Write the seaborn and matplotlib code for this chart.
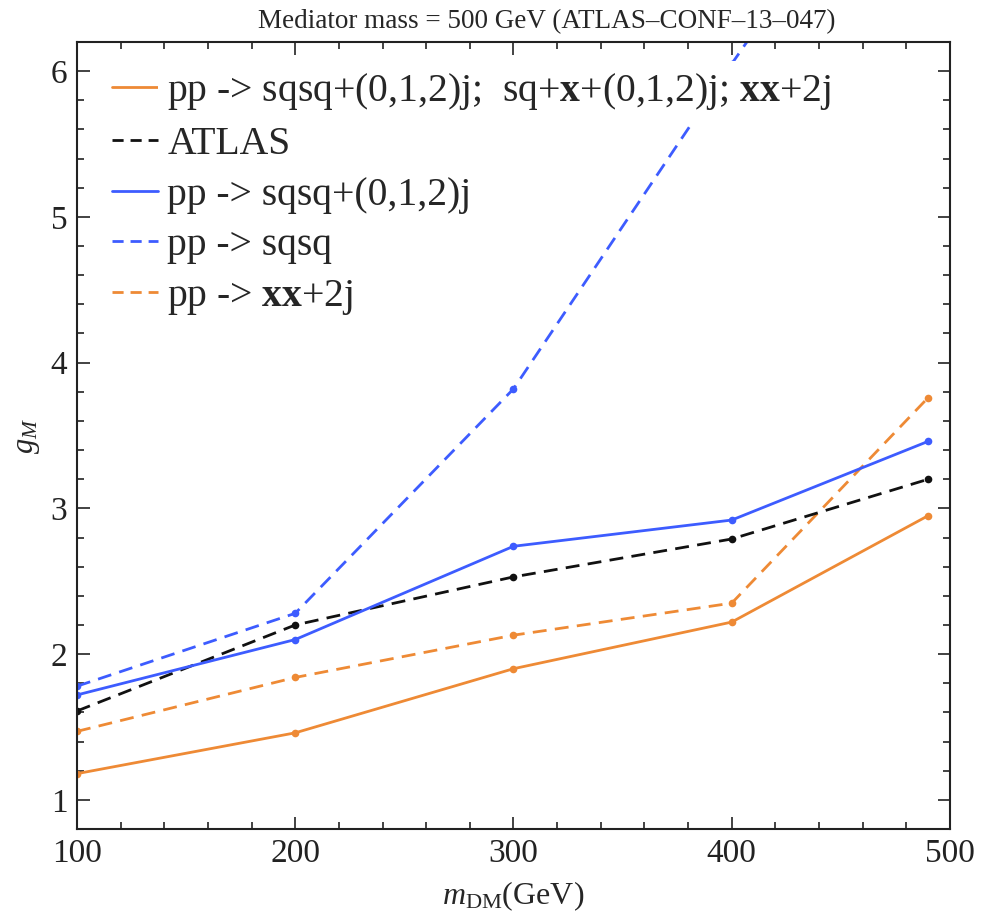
import numpy as np
import pandas as pd
import matplotlib
matplotlib.use("Agg")
import matplotlib.pyplot as plt
from matplotlib.lines import Line2D
from matplotlib.ticker import MultipleLocator
import seaborn as sns

# ---- data ----
m_dm = [100, 200, 300, 400, 490]
full_combined = [1.18, 1.46, 1.90, 2.22, 2.95]      # orange solid
atlas = [1.61, 2.20, 2.53, 2.79, 3.20]               # black dashed
sqsq_jets = [1.72, 2.10, 2.74, 2.92, 3.46]           # blue solid
sqsq_only = [1.78, 2.28, 3.82, 6.05, 8.0]            # blue dashed
xx_2j = [1.47, 1.84, 2.13, 2.35, 3.76]               # orange dashed

labels = [
    r"pp -> sqsq+(0,1,2)j;  sq+$\mathbf{x}$+(0,1,2)j; $\mathbf{xx}$+2j",
    "ATLAS",
    "pp -> sqsq+(0,1,2)j",
    "pp -> sqsq",
    r"pp -> $\mathbf{xx}$+2j",
]
title = "Mediator mass = 500 GeV (ATLAS\u2013CONF\u201313\u2013047)"
xlabel = r"$m_{\rm DM}$(GeV)"
ylabel = r"$g_M$"
xticks = [100, 200, 300, 400, 500]
yticks = [1, 2, 3, 4, 5, 6]

ORANGE = "#ee8a35"
BLUE = "#3d5cff"
BLACK = "#111111"

sns.set_style("ticks")
plt.rcParams["font.family"] = ["Liberation Serif", "DejaVu Serif"]
plt.rcParams["mathtext.fontset"] = "custom"
plt.rcParams["mathtext.rm"] = "Liberation Serif"
plt.rcParams["mathtext.it"] = "Liberation Serif:italic"
plt.rcParams["mathtext.bf"] = "Liberation Serif:bold"

fig = plt.figure(figsize=(9.82, 9.19), dpi=100)
ax = fig.add_axes([0.0784, 0.0979, 0.8890, 0.8564])

series = [
    (full_combined, ORANGE, "-"),
    (atlas, BLACK, "--"),
    (sqsq_jets, BLUE, "-"),
    (sqsq_only, BLUE, "--"),
    (xx_2j, ORANGE, "--"),
]
draw_order = [0, 4, 1, 3, 2]
for i in draw_order:
    vals, col, ls = series[i]
    df = pd.DataFrame({"m": m_dm, "g": vals})
    line_kw = dict(linewidth=2.0, marker="o", markersize=5.5, markeredgewidth=0)
    if ls == "--":
        line_kw["dashes"] = (5, 3)
    sns.lineplot(data=df, x="m", y="g", ax=ax, color=col, legend=False,
                 **line_kw)

ax.set_xlim(100, 500)
ax.set_ylim(0.8, 6.2)
ax.set_xticks(xticks)
ax.set_yticks(yticks)
ax.xaxis.set_minor_locator(MultipleLocator(20))
ax.yaxis.set_minor_locator(MultipleLocator(0.2))
ax.tick_params(which="both", direction="in", top=True, right=True,
               width=1.2, colors="#222222")
ax.tick_params(which="major", length=9, labelsize=24, pad=7)
ax.tick_params(which="minor", length=5)
for s in ax.spines.values():
    s.set_linewidth(1.5)
    s.set_color("#222222")

ax.set_xlabel(xlabel, fontsize=23, labelpad=7)
ax.set_ylabel(ylabel, fontsize=22, labelpad=6)
ax.set_title(title, fontsize=19.5, pad=10, x=0.538)

handles = []
for vals, col, ls in series:
    if ls == "--":
        h = Line2D([], [], color=col, linewidth=2.0, dashes=(4, 2.5))
    else:
        h = Line2D([], [], color=col, linewidth=2.0)
    handles.append(h)
leg = ax.legend(handles, labels, loc="upper left", frameon=False, fontsize=28.5,
                handlelength=1.15, handletextpad=0.25, labelspacing=0.345,
                bbox_to_anchor=(0.022, 0.983), borderaxespad=0.0)
leg.get_texts()[0].set_bbox(dict(facecolor="white", edgecolor="none", pad=7))

fig.savefig("out.png", dpi=100)
